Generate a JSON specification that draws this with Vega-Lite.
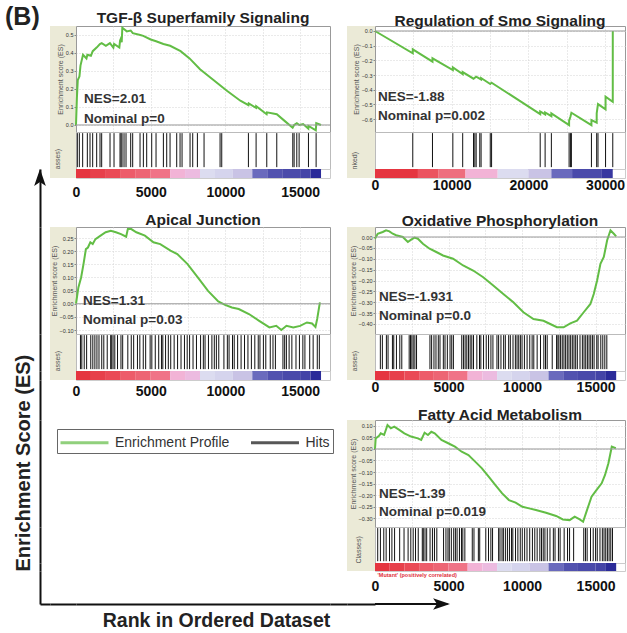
{
  "$schema": "https://vega.github.io/schema/vega-lite/v6.json",
  "background": "white",
  "padding": {"left": 5, "top": 5, "right": 0, "bottom": 0},
  "config": {"font": "Liberation Sans", "view": {"stroke": null}},
  "datasets": {
    "tgf_es": [{"rank":0,"es":0},{"rank":60,"es":0.15},{"rank":120,"es":0.25},{"rank":230,"es":0.27},{"rank":300,"es":0.33},{"rank":470,"es":0.39},{"rank":700,"es":0.37},{"rank":760,"es":0.39},{"rank":1000,"es":0.385},{"rank":1120,"es":0.41},{"rank":1380,"es":0.43},{"rank":1600,"es":0.45},{"rank":1720,"es":0.455},{"rank":2000,"es":0.44},{"rank":2270,"es":0.455},{"rank":2500,"es":0.43},{"rank":2550,"es":0.45},{"rank":2900,"es":0.43},{"rank":2950,"es":0.47},{"rank":3000,"es":0.48},{"rank":3060,"es":0.46},{"rank":3100,"es":0.54},{"rank":3400,"es":0.52},{"rank":3660,"es":0.525},{"rank":3800,"es":0.51},{"rank":4300,"es":0.5},{"rank":4500,"es":0.495},{"rank":5000,"es":0.475},{"rank":5360,"es":0.465},{"rank":5850,"es":0.45},{"rank":6300,"es":0.44},{"rank":7000,"es":0.41},{"rank":7600,"es":0.37},{"rank":8300,"es":0.31},{"rank":9200,"es":0.25},{"rank":10100,"es":0.19},{"rank":11000,"es":0.135},{"rank":11540,"es":0.11},{"rank":11560,"es":0.12},{"rank":12050,"es":0.095},{"rank":12060,"es":0.105},{"rank":12760,"es":0.06},{"rank":12780,"es":0.07},{"rank":13440,"es":0.06},{"rank":14000,"es":0.02},{"rank":14500,"es":-0.015},{"rank":14600,"es":0.0},{"rank":14780,"es":0.01},{"rank":14950,"es":0.0},{"rank":15200,"es":0.005},{"rank":15550,"es":-0.02},{"rank":15560,"es":-0.005},{"rank":16050,"es":-0.03},{"rank":16080,"es":0.01},{"rank":16400,"es":0.0}],
    "tgf_hits": [{"rank":89},{"rank":223},{"rank":446},{"rank":759},{"rank":938},{"rank":1116},{"rank":1384},{"rank":1607},{"rank":1719},{"rank":2277},{"rank":2545},{"rank":2946},{"rank":3013},{"rank":3080},{"rank":3214},{"rank":3348},{"rank":3661},{"rank":3795},{"rank":4286},{"rank":4509},{"rank":4732},{"rank":5067},{"rank":5357},{"rank":5848},{"rank":6071},{"rank":6295},{"rank":6741},{"rank":6964},{"rank":7098},{"rank":7634},{"rank":7812},{"rank":8125},{"rank":8571},{"rank":9643},{"rank":9754},{"rank":11540},{"rank":12054},{"rank":12768},{"rank":13438},{"rank":14509},{"rank":14598},{"rank":14777},{"rank":14933},{"rank":15558},{"rank":16071}],
    "smo_es": [{"rank":0,"es":0},{"rank":4925,"es":-0.152},{"rank":4926,"es":-0.125},{"rank":7495,"es":-0.209},{"rank":7496,"es":-0.186},{"rank":10150,"es":-0.266},{"rank":10151,"es":-0.248},{"rank":11435,"es":-0.293},{"rank":11436,"es":-0.28},{"rank":12848,"es":-0.325},{"rank":13190,"es":-0.311},{"rank":13833,"es":-0.33},{"rank":13834,"es":-0.32},{"rank":15032,"es":-0.361},{"rank":15203,"es":-0.352},{"rank":21542,"es":-0.566},{"rank":21543,"es":-0.548},{"rank":22184,"es":-0.568},{"rank":22185,"es":-0.555},{"rank":22998,"es":-0.58},{"rank":22999,"es":-0.561},{"rank":25310,"es":-0.641},{"rank":25311,"es":-0.611},{"rank":25482,"es":-0.584},{"rank":25610,"es":-0.557},{"rank":28223,"es":-0.641},{"rank":28224,"es":-0.607},{"rank":28908,"es":-0.625},{"rank":28909,"es":-0.561},{"rank":29079,"es":-0.498},{"rank":30064,"es":-0.534},{"rank":30065,"es":-0.448},{"rank":31006,"es":-0.482},{"rank":31007,"es":0.0}],
    "smo_hits": [{"rank":4925},{"rank":7495},{"rank":10150},{"rank":11435},{"rank":12848},{"rank":13019},{"rank":13190},{"rank":13662},{"rank":13833},{"rank":15032},{"rank":15203},{"rank":21542},{"rank":22184},{"rank":22998},{"rank":25310},{"rank":25482},{"rank":25610},{"rank":28223},{"rank":28908},{"rank":29079},{"rank":30064},{"rank":31006}],
    "ap_es": [{"rank":0,"es":0},{"rank":160,"es":0.062},{"rank":342,"es":0.1},{"rank":502,"es":0.151},{"rank":662,"es":0.208},{"rank":799,"es":0.214},{"rank":959,"es":0.234},{"rank":1119,"es":0.227},{"rank":1301,"es":0.246},{"rank":1644,"es":0.259},{"rank":1986,"es":0.272},{"rank":2329,"es":0.278},{"rank":2671,"es":0.272},{"rank":3014,"es":0.265},{"rank":3356,"es":0.255},{"rank":3470,"es":0.284},{"rank":3699,"es":0.284},{"rank":4041,"es":0.272},{"rank":4612,"es":0.259},{"rank":5183,"es":0.234},{"rank":5639,"es":0.227},{"rank":6324,"es":0.202},{"rank":6781,"es":0.189},{"rank":7466,"es":0.151},{"rank":8151,"es":0.1},{"rank":8836,"es":0.049},{"rank":9521,"es":0.009},{"rank":9977,"es":-0.004},{"rank":10434,"es":-0.014},{"rank":10890,"es":-0.02},{"rank":11575,"es":-0.039},{"rank":12260,"es":-0.065},{"rank":12945,"es":-0.09},{"rank":13402,"es":-0.084},{"rank":13744,"es":-0.1},{"rank":14087,"es":-0.084},{"rank":14543,"es":-0.09},{"rank":15000,"es":-0.084},{"rank":15457,"es":-0.071},{"rank":15799,"es":-0.075},{"rank":16027,"es":-0.088},{"rank":16142,"es":-0.058},{"rank":16324,"es":0.005}],
    "ap_hits": [{"rank":299},{"rank":390},{"rank":551},{"rank":712},{"rank":988},{"rank":1126},{"rank":1263},{"rank":1401},{"rank":1539},{"rank":1723},{"rank":1861},{"rank":2090},{"rank":2320},{"rank":2389},{"rank":2481},{"rank":2596},{"rank":2779},{"rank":3009},{"rank":3124},{"rank":3468},{"rank":3698},{"rank":3859},{"rank":4112},{"rank":4272},{"rank":4502},{"rank":4663},{"rank":4962},{"rank":5076},{"rank":5306},{"rank":5536},{"rank":5720},{"rank":5811},{"rank":5995},{"rank":6179},{"rank":6340},{"rank":6569},{"rank":6799},{"rank":7029},{"rank":7259},{"rank":7442},{"rank":7603},{"rank":7833},{"rank":8062},{"rank":8338},{"rank":8522},{"rank":8637},{"rank":8866},{"rank":9096},{"rank":9257},{"rank":9395},{"rank":9556},{"rank":9900},{"rank":10130},{"rank":10245},{"rank":10475},{"rank":10590},{"rank":10819},{"rank":11049},{"rank":11279},{"rank":11508},{"rank":11738},{"rank":11967},{"rank":12197},{"rank":12312},{"rank":12542},{"rank":12702},{"rank":13001},{"rank":13185},{"rank":13346},{"rank":13851},{"rank":13966},{"rank":14081},{"rank":14264},{"rank":14448},{"rank":14724},{"rank":14954},{"rank":15183},{"rank":15321},{"rank":15642},{"rank":15872},{"rank":16148},{"rank":16286}],
    "ox_es": [{"rank":0,"es":-0.008},{"rank":182,"es":0.015},{"rank":524,"es":0.023},{"rank":752,"es":0.031},{"rank":980,"es":0.026},{"rank":1207,"es":0.015},{"rank":1435,"es":0.008},{"rank":1891,"es":0.0},{"rank":2233,"es":-0.023},{"rank":2460,"es":-0.012},{"rank":2688,"es":-0.003},{"rank":2916,"es":-0.008},{"rank":3258,"es":-0.031},{"rank":3713,"es":-0.054},{"rank":4169,"es":-0.069},{"rank":4624,"es":-0.085},{"rank":5308,"es":-0.1},{"rank":5991,"es":-0.131},{"rank":6675,"es":-0.154},{"rank":7358,"es":-0.185},{"rank":8041,"es":-0.223},{"rank":8725,"es":-0.262},{"rank":9408,"es":-0.3},{"rank":10092,"es":-0.346},{"rank":10775,"es":-0.377},{"rank":11458,"es":-0.385},{"rank":11914,"es":-0.4},{"rank":12369,"es":-0.415},{"rank":12825,"es":-0.415},{"rank":13281,"es":-0.397},{"rank":13736,"es":-0.385},{"rank":14192,"es":-0.346},{"rank":14647,"es":-0.308},{"rank":14875,"es":-0.262},{"rank":15103,"es":-0.2},{"rank":15330,"es":-0.123},{"rank":15558,"es":-0.092},{"rank":15786,"es":-0.015},{"rank":16014,"es":0.031},{"rank":16241,"es":0.015},{"rank":16400,"es":0.003}],
    "ox_hits": [{"rank":364},{"rank":501},{"rank":775},{"rank":888},{"rank":1185},{"rank":1276},{"rank":1458},{"rank":1686},{"rank":1822},{"rank":2324},{"rank":2415},{"rank":2506},{"rank":2597},{"rank":2711},{"rank":2825},{"rank":3736},{"rank":3850},{"rank":4009},{"rank":4146},{"rank":4305},{"rank":4419},{"rank":4647},{"rank":4761},{"rank":4920},{"rank":5103},{"rank":5217},{"rank":5331},{"rank":5900},{"rank":6014},{"rank":6128},{"rank":6242},{"rank":6356},{"rank":6470},{"rank":6583},{"rank":6697},{"rank":6925},{"rank":7107},{"rank":7198},{"rank":7381},{"rank":7563},{"rank":7722},{"rank":7882},{"rank":8019},{"rank":8292},{"rank":8406},{"rank":8565},{"rank":8748},{"rank":8862},{"rank":9089},{"rank":9203},{"rank":9385},{"rank":9545},{"rank":9659},{"rank":9773},{"rank":9887},{"rank":10000},{"rank":10160},{"rank":10342},{"rank":10524},{"rank":10684},{"rank":10798},{"rank":11026},{"rank":11253},{"rank":11481},{"rank":11595},{"rank":11709},{"rank":12051},{"rank":12347},{"rank":12438},{"rank":12506},{"rank":12620},{"rank":12734},{"rank":12848},{"rank":12962},{"rank":13076},{"rank":13190},{"rank":13304},{"rank":13418},{"rank":13531},{"rank":13645},{"rank":13759},{"rank":13941},{"rank":14101},{"rank":14215},{"rank":14328},{"rank":14442},{"rank":14556},{"rank":14670},{"rank":14784},{"rank":14898},{"rank":15080},{"rank":15171},{"rank":15354},{"rank":15490},{"rank":15627},{"rank":15764}],
    "fa_es": [{"rank":0,"es":0},{"rank":46,"es":0.046},{"rank":275,"es":0.057},{"rank":390,"es":0.068},{"rank":619,"es":0.061},{"rank":849,"es":0.104},{"rank":1078,"es":0.09},{"rank":1308,"es":0.097},{"rank":1651,"es":0.083},{"rank":1995,"es":0.068},{"rank":2454,"es":0.054},{"rank":2913,"es":0.046},{"rank":3142,"es":0.039},{"rank":3372,"es":0.071},{"rank":3601,"es":0.061},{"rank":3830,"es":0.075},{"rank":4060,"es":0.068},{"rank":4519,"es":0.039},{"rank":4977,"es":0.025},{"rank":5436,"es":0.01},{"rank":5895,"es":-0.012},{"rank":6353,"es":-0.026},{"rank":6812,"es":-0.055},{"rank":7271,"es":-0.084},{"rank":7729,"es":-0.12},{"rank":8188,"es":-0.157},{"rank":8647,"es":-0.193},{"rank":9106,"es":-0.222},{"rank":9564,"es":-0.233},{"rank":10023,"es":-0.251},{"rank":10482,"es":-0.258},{"rank":10940,"es":-0.265},{"rank":11628,"es":-0.277},{"rank":12317,"es":-0.291},{"rank":12775,"es":-0.306},{"rank":13234,"es":-0.309},{"rank":13578,"es":-0.294},{"rank":13922,"es":-0.306},{"rank":14151,"es":-0.316},{"rank":14381,"es":-0.272},{"rank":14725,"es":-0.207},{"rank":15069,"es":-0.178},{"rank":15413,"es":-0.149},{"rank":15642,"es":-0.113},{"rank":15872,"es":-0.062},{"rank":16101,"es":0.01},{"rank":16376,"es":0.003}],
    "fa_hits": [{"rank":184},{"rank":368},{"rank":597},{"rank":758},{"rank":988},{"rank":1149},{"rank":1332},{"rank":1677},{"rank":1975},{"rank":2251},{"rank":2435},{"rank":2596},{"rank":2756},{"rank":2940},{"rank":3216},{"rank":3285},{"rank":3400},{"rank":3514},{"rank":3744},{"rank":3905},{"rank":4043},{"rank":4204},{"rank":4663},{"rank":4824},{"rank":4962},{"rank":5053},{"rank":5191},{"rank":5352},{"rank":5467},{"rank":5582},{"rank":5743},{"rank":5880},{"rank":5972},{"rank":6110},{"rank":6615},{"rank":6730},{"rank":7029},{"rank":7121},{"rank":7534},{"rank":7718},{"rank":7879},{"rank":7994},{"rank":8407},{"rank":8499},{"rank":8637},{"rank":8729},{"rank":8866},{"rank":9004},{"rank":9142},{"rank":9280},{"rank":9372},{"rank":9556},{"rank":9716},{"rank":9877},{"rank":10015},{"rank":10176},{"rank":10337},{"rank":10520},{"rank":10704},{"rank":10865},{"rank":11026},{"rank":11209},{"rank":11324},{"rank":11439},{"rank":11554},{"rank":11715},{"rank":11898},{"rank":12128},{"rank":12243},{"rank":12473},{"rank":12588},{"rank":12863},{"rank":13093},{"rank":13231},{"rank":13507},{"rank":14196},{"rank":14311},{"rank":14426},{"rank":14655},{"rank":14839},{"rank":15000},{"rank":15114},{"rank":15298},{"rank":15459},{"rank":15574},{"rank":15689},{"rank":15803},{"rank":15918},{"rank":16033},{"rank":16148}],
    "bar16": [{"start":0,"end":1000,"m":1},{"start":1000,"end":2000,"m":0.95},{"start":2000,"end":3000,"m":0.9},{"start":3000,"end":4000,"m":0.8},{"start":4000,"end":5000,"m":0.75},{"start":5000,"end":6300,"m":0.68},{"start":6300,"end":7300,"m":0.45},{"start":7300,"end":8300,"m":0.38},{"start":8300,"end":9300,"m":0.05},{"start":9300,"end":10500,"m":0.0},{"start":10500,"end":11800,"m":-0.1},{"start":11800,"end":12800,"m":-0.55},{"start":12800,"end":13800,"m":-0.7},{"start":13800,"end":15000,"m":-0.75},{"start":15000,"end":15700,"m":-0.8},{"start":15700,"end":16400,"m":-1}],
    "bar31": [{"start":0,"end":5600,"m":1},{"start":5600,"end":8300,"m":0.85},{"start":8300,"end":11800,"m":0.7},{"start":11800,"end":16000,"m":0.45},{"start":16000,"end":20000,"m":0.05},{"start":20000,"end":23000,"m":-0.1},{"start":23000,"end":25700,"m":-0.55},{"start":25700,"end":29500,"m":-0.75},{"start":29500,"end":31000,"m":-0.9}],
    "legend_items": []
  },
  "columns": 6,
  "spacing": 0,
  "bounds": "flush",
  "align": "each",
  "resolve": {"legend": {"stroke": "independent"}, "scale": {"stroke": "independent"}},
  "concat": [
    {"width": 10, "height": 106, "data": {"values": []}, "mark": "rule", "encoding": {},
     "title": {"text": "(B)", "anchor": "start", "dx": -35, "offset": -4, "fontSize": 25, "fontWeight": "bold", "color": "#222"}},
    {"width": 26, "height": 106, "data": {"values": []}, "mark": "rule", "encoding": {}, "view": {"fill": "#ebead7"}},
    {"width": 254, "height": 106, "view": {"stroke": "#999"},
     "title": {"text": "TGF-β Superfamily Signaling", "fontSize": 15.5, "fontWeight": "bold", "color": "#222", "offset": -3},
     "layer": [
       {"data": {"name": "tgf_es"}, "mark": {"type": "line", "color": "#62bd45", "strokeWidth": 2},
        "encoding": {
          "x": {"field": "rank", "type": "quantitative", "scale": {"domain": [0, 17000], "nice": false, "zero": false},
                "axis": {"title": null, "labels": false, "ticks": false, "domain": false, "grid": true, "gridColor": "#d5d5d5", "gridDash": [1, 2], "tickCount": 20, "values": [2500, 5000, 7500, 10000, 12500, 15000]}},
          "y": {"field": "es", "type": "quantitative", "scale": {"domain": [-0.039, 0.55], "nice": false, "zero": false},
                "axis": {"title": "Enrichment score (ES)", "titleFontSize": 7, "titleFontWeight": "normal", "titleColor": "#555", "titlePadding": 2, "labelFontSize": 5.5, "labelColor": "#333", "labelPadding": 1, "labelOverlap": false, "tickCount": 20, "tickSize": 2, "tickColor": "#888", "domain": false, "grid": true, "gridColor": "#d5d5d5", "gridDash": [1, 2], "values": [0, 0.1, 0.2, 0.3, 0.4, 0.5], "format": ".1f"}}
        }},
       {"data": {"values": [{}]}, "mark": {"type": "rule", "color": "#999", "strokeWidth": 1}, "encoding": {"y": {"datum": 0, "type": "quantitative"}}},
       {"data": {"values": [{"t": "NES=2.01"}]}, "mark": {"type": "text", "align": "left", "baseline": "middle", "fontSize": 13.5, "fontWeight": "bold", "color": "#333"},
        "encoding": {"x": {"datum": 535, "type": "quantitative"}, "y": {"datum": 0.144, "type": "quantitative"}, "text": {"field": "t"}}},
       {"data": {"values": [{"t": "Nominal p=0"}]}, "mark": {"type": "text", "align": "left", "baseline": "middle", "fontSize": 13.5, "fontWeight": "bold", "color": "#333"},
        "encoding": {"x": {"datum": 535, "type": "quantitative"}, "y": {"datum": 0.033, "type": "quantitative"}, "text": {"field": "t"}}}
     ]},
    {"width": 17, "height": 1, "data": {"values": []}, "mark": "rule", "encoding": {}},
    {"width": 28, "height": 106, "data": {"values": []}, "mark": "rule", "encoding": {}, "view": {"fill": "#ebead7"}},
    {"width": 250, "height": 106, "view": {"stroke": "#999"},
     "title": {"text": "Regulation of Smo Signaling", "fontSize": 15.5, "fontWeight": "bold", "color": "#222", "offset": -3},
     "layer": [
       {"data": {"name": "smo_es"}, "mark": {"type": "line", "color": "#62bd45", "strokeWidth": 2},
        "encoding": {
          "x": {"field": "rank", "type": "quantitative", "scale": {"domain": [0, 32600], "nice": false, "zero": false},
                "axis": {"title": null, "labels": false, "ticks": false, "domain": false, "grid": true, "gridColor": "#d5d5d5", "gridDash": [1, 2], "tickCount": 20, "values": [5000, 10000, 15000, 20000, 25000, 30000]}},
          "y": {"field": "es", "type": "quantitative", "scale": {"domain": [-0.688, 0.034], "nice": false, "zero": false},
                "axis": {"title": "Enrichment score (ES)", "titleFontSize": 7, "titleFontWeight": "normal", "titleColor": "#555", "titlePadding": 2, "labelFontSize": 5.5, "labelColor": "#333", "labelPadding": 1, "labelOverlap": false, "tickCount": 20, "tickSize": 2, "tickColor": "#888", "domain": false, "grid": true, "gridColor": "#d5d5d5", "gridDash": [1, 2], "values": [0, -0.1, -0.2, -0.3, -0.4, -0.5, -0.6], "format": ".1f"}}
        }},
       {"data": {"values": [{}]}, "mark": {"type": "rule", "color": "#999", "strokeWidth": 1}, "encoding": {"y": {"datum": 0, "type": "quantitative"}}},
       {"data": {"values": [{"t": "NES=-1.88"}]}, "mark": {"type": "text", "align": "left", "baseline": "middle", "fontSize": 13.5, "fontWeight": "bold", "color": "#333"},
        "encoding": {"x": {"datum": 390, "type": "quantitative"}, "y": {"datum": -0.45, "type": "quantitative"}, "text": {"field": "t"}}},
       {"data": {"values": [{"t": "Nominal p=0.002"}]}, "mark": {"type": "text", "align": "left", "baseline": "middle", "fontSize": 13.5, "fontWeight": "bold", "color": "#333"},
        "encoding": {"x": {"datum": 390, "type": "quantitative"}, "y": {"datum": -0.58, "type": "quantitative"}, "text": {"field": "t"}}}
     ]},

    {"width": 1, "height": 1, "data": {"values": []}, "mark": "rule", "encoding": {}},
    {"width": 26, "height": 37, "data": {"values": []}, "mark": "rule", "encoding": {}, "view": {"fill": "#ebead7"}},
    {"width": 254, "height": 37, "view": {"stroke": "#bbb"}, "data": {"name": "tgf_hits"},
     "mark": {"type": "rule", "color": "#111", "strokeWidth": 1},
     "encoding": {
       "x": {"field": "rank", "type": "quantitative", "scale": {"domain": [0, 17000], "nice": false, "zero": false}, "axis": null},
       "y": {"datum": 0.05, "type": "quantitative", "scale": {"domain": [0, 1]}, "axis": {"title": "asses)", "titleFontSize": 7, "titleFontWeight": "normal", "titleColor": "#555", "titleAnchor": "start", "titlePadding": 16, "labels": false, "ticks": false, "domain": false, "grid": false}},
       "y2": {"datum": 0.97}
     }},
    {"width": 1, "height": 1, "data": {"values": []}, "mark": "rule", "encoding": {}},
    {"width": 28, "height": 37, "data": {"values": []}, "mark": "rule", "encoding": {}, "view": {"fill": "#ebead7"}},
    {"width": 250, "height": 37, "view": {"stroke": "#bbb"}, "data": {"name": "smo_hits"},
     "mark": {"type": "rule", "color": "#111", "strokeWidth": 1},
     "encoding": {
       "x": {"field": "rank", "type": "quantitative", "scale": {"domain": [0, 32600], "nice": false, "zero": false}, "axis": null},
       "y": {"datum": 0.05, "type": "quantitative", "scale": {"domain": [0, 1]}, "axis": {"title": "nked)", "titleFontSize": 7, "titleFontWeight": "normal", "titleColor": "#555", "titleAnchor": "start", "titlePadding": 18, "labels": false, "ticks": false, "domain": false, "grid": false}},
       "y2": {"datum": 0.97}
     }},

    {"width": 10, "height": 9, "data": {"values": [{}]},
     "mark": {"type": "point", "shape": "M0,0L0.9,2.6L0,2L-0.9,2.6Z", "size": 169, "filled": true, "color": "#111", "opacity": 1},
     "encoding": {
       "x": {"datum": 0, "type": "quantitative", "scale": {"domain": [0, 1]}, "axis": null},
       "y": {"datum": 1, "type": "quantitative", "scale": {"domain": [0, 1]}, "axis": {"title": null, "domain": true, "domainColor": "#111", "domainWidth": 2, "ticks": false, "labels": false, "grid": false}}
     }},
    {"width": 26, "height": 9, "data": {"values": []}, "mark": "rule", "encoding": {}, "view": {"fill": "#ebead7"}},
    {"width": 254, "height": 9, "view": {"stroke": "#ccc"}, "data": {"name": "bar16"},
     "mark": {"type": "rect"},
     "encoding": {
       "x": {"field": "start", "type": "quantitative", "scale": {"domain": [0, 17000], "nice": false, "zero": false},
             "axis": {"title": null, "values": [0, 5000, 10000, 15000], "tickCount": 20, "format": "d", "labelFontSize": 14, "labelFontWeight": "bold", "labelColor": "#111", "labelFlush": false, "labelOverlap": false, "labelPadding": 7, "domain": false, "ticks": false, "grid": false}},
       "x2": {"field": "end"},
       "fill": {"field": "m", "type": "quantitative", "legend": null, "scale": {"domain": [-1, -0.75, -0.5, -0.1, 0.05, 0.45, 0.7, 1], "range": ["#2b2b99", "#4a4aaa", "#7272c2", "#c9c3e5", "#dcdcf0", "#f2b3d6", "#ee6e7e", "#e53540"]}}
     }},
    {"width": 1, "height": 1, "data": {"values": []}, "mark": "rule", "encoding": {}},
    {"width": 28, "height": 9, "data": {"values": []}, "mark": "rule", "encoding": {}, "view": {"fill": "#ebead7"}},
    {"width": 250, "height": 9, "view": {"stroke": "#ccc"}, "data": {"name": "bar31"},
     "mark": {"type": "rect"},
     "encoding": {
       "x": {"field": "start", "type": "quantitative", "scale": {"domain": [0, 32600], "nice": false, "zero": false},
             "axis": {"title": null, "values": [0, 10000, 20000, 30000], "tickCount": 20, "format": "d", "labelFontSize": 14, "labelFontWeight": "bold", "labelColor": "#111", "labelFlush": false, "labelOverlap": false, "labelPadding": 0, "domain": false, "ticks": false, "grid": false}},
       "x2": {"field": "end"},
       "fill": {"field": "m", "type": "quantitative", "legend": null, "scale": {"domain": [-1, -0.75, -0.5, -0.1, 0.05, 0.45, 0.7, 1], "range": ["#2b2b99", "#4a4aaa", "#7272c2", "#c9c3e5", "#dcdcf0", "#f2b3d6", "#ee6e7e", "#e53540"]}}
     }},

    {"width": 10, "height": 49, "data": {"values": []}, "mark": "rule",
     "encoding": {"y": {"datum": 0, "type": "quantitative", "scale": {"domain": [0, 1]}, "axis": {"title": null, "domain": true, "domainColor": "#111", "domainWidth": 2, "ticks": false, "labels": false, "grid": false}}}},
    {"width": 1, "height": 1, "data": {"values": []}, "mark": "rule", "encoding": {}},
    {"width": 1, "height": 1, "data": {"values": []}, "mark": "rule", "encoding": {}},
    {"width": 1, "height": 1, "data": {"values": []}, "mark": "rule", "encoding": {}},
    {"width": 1, "height": 1, "data": {"values": []}, "mark": "rule", "encoding": {}},
    {"width": 1, "height": 1, "data": {"values": []}, "mark": "rule", "encoding": {}},

    {"width": 10, "height": 107, "data": {"values": []}, "mark": "rule",
     "encoding": {"y": {"datum": 0, "type": "quantitative", "scale": {"domain": [0, 1]}, "axis": {"title": null, "domain": true, "domainColor": "#111", "domainWidth": 2, "ticks": false, "labels": false, "grid": false}}}},
    {"width": 26, "height": 107, "data": {"values": []}, "mark": "rule", "encoding": {}, "view": {"fill": "#ebead7"}},
    {"width": 254, "height": 107, "view": {"stroke": "#999"},
     "title": {"text": "Apical Junction", "fontSize": 15.5, "fontWeight": "bold", "color": "#222", "offset": -3},
     "layer": [
       {"data": {"name": "ap_es"}, "mark": {"type": "line", "color": "#62bd45", "strokeWidth": 2},
        "encoding": {
          "x": {"field": "rank", "type": "quantitative", "scale": {"domain": [0, 17000], "nice": false, "zero": false},
                "axis": {"title": null, "labels": false, "ticks": false, "domain": false, "grid": true, "gridColor": "#d5d5d5", "gridDash": [1, 2], "tickCount": 20, "values": [2500, 5000, 7500, 10000, 12500, 15000]}},
          "y": {"field": "es", "type": "quantitative", "scale": {"domain": [-0.115, 0.292], "nice": false, "zero": false},
                "axis": {"title": "Enrichment score (ES)", "titleFontSize": 7, "titleFontWeight": "normal", "titleColor": "#555", "titlePadding": 2, "labelFontSize": 5.5, "labelColor": "#333", "labelPadding": 1, "labelOverlap": false, "tickCount": 20, "tickSize": 2, "tickColor": "#888", "domain": false, "grid": true, "gridColor": "#d5d5d5", "gridDash": [1, 2], "values": [-0.1, -0.05, 0, 0.05, 0.1, 0.15, 0.2, 0.25], "format": ".2f"}}
        }},
       {"data": {"values": [{}]}, "mark": {"type": "rule", "color": "#999", "strokeWidth": 1}, "encoding": {"y": {"datum": 0, "type": "quantitative"}}},
       {"data": {"values": [{"t": "NES=1.31"}]}, "mark": {"type": "text", "align": "left", "baseline": "middle", "fontSize": 13.5, "fontWeight": "bold", "color": "#333"},
        "encoding": {"x": {"datum": 470, "type": "quantitative"}, "y": {"datum": 0.0105, "type": "quantitative"}, "text": {"field": "t"}}},
       {"data": {"values": [{"t": "Nominal p=0.03"}]}, "mark": {"type": "text", "align": "left", "baseline": "middle", "fontSize": 13.5, "fontWeight": "bold", "color": "#333"},
        "encoding": {"x": {"datum": 470, "type": "quantitative"}, "y": {"datum": -0.062, "type": "quantitative"}, "text": {"field": "t"}}}
     ]},
    {"width": 1, "height": 1, "data": {"values": []}, "mark": "rule", "encoding": {}},
    {"width": 28, "height": 107, "data": {"values": []}, "mark": "rule", "encoding": {}, "view": {"fill": "#ebead7"}},
    {"width": 250, "height": 107, "view": {"stroke": "#999"},
     "title": {"text": "Oxidative Phosphorylation", "fontSize": 15.5, "fontWeight": "bold", "color": "#222", "offset": -3},
     "layer": [
       {"data": {"name": "ox_es"}, "mark": {"type": "line", "color": "#62bd45", "strokeWidth": 2},
        "encoding": {
          "x": {"field": "rank", "type": "quantitative", "scale": {"domain": [0, 17000], "nice": false, "zero": false},
                "axis": {"title": null, "labels": false, "ticks": false, "domain": false, "grid": true, "gridColor": "#d5d5d5", "gridDash": [1, 2], "tickCount": 20, "values": [2500, 5000, 7500, 10000, 12500, 15000]}},
          "y": {"field": "es", "type": "quantitative", "scale": {"domain": [-0.446, 0.046], "nice": false, "zero": false},
                "axis": {"title": "Enrichment score (ES)", "titleFontSize": 7, "titleFontWeight": "normal", "titleColor": "#555", "titlePadding": 2, "labelFontSize": 5.5, "labelColor": "#333", "labelPadding": 1, "labelOverlap": false, "tickCount": 20, "tickSize": 2, "tickColor": "#888", "domain": false, "grid": true, "gridColor": "#d5d5d5", "gridDash": [1, 2], "values": [0, -0.05, -0.1, -0.15, -0.2, -0.25, -0.3, -0.35, -0.4], "format": ".2f"}}
        }},
       {"data": {"values": [{}]}, "mark": {"type": "rule", "color": "#999", "strokeWidth": 1}, "encoding": {"y": {"datum": 0, "type": "quantitative"}}},
       {"data": {"values": [{"t": "NES=-1.931"}]}, "mark": {"type": "text", "align": "left", "baseline": "middle", "fontSize": 13.5, "fontWeight": "bold", "color": "#333"},
        "encoding": {"x": {"datum": 272, "type": "quantitative"}, "y": {"datum": -0.276, "type": "quantitative"}, "text": {"field": "t"}}},
       {"data": {"values": [{"t": "Nominal p=0.0"}]}, "mark": {"type": "text", "align": "left", "baseline": "middle", "fontSize": 13.5, "fontWeight": "bold", "color": "#333"},
        "encoding": {"x": {"datum": 272, "type": "quantitative"}, "y": {"datum": -0.363, "type": "quantitative"}, "text": {"field": "t"}}}
     ]},

    {"width": 10, "height": 37, "data": {"values": []}, "mark": "rule",
     "encoding": {"y": {"datum": 0, "type": "quantitative", "scale": {"domain": [0, 1]}, "axis": {"title": null, "domain": true, "domainColor": "#111", "domainWidth": 2, "ticks": false, "labels": false, "grid": false}}}},
    {"width": 26, "height": 37, "data": {"values": []}, "mark": "rule", "encoding": {}, "view": {"fill": "#ebead7"}},
    {"width": 254, "height": 37, "view": {"stroke": "#bbb"}, "data": {"name": "ap_hits"},
     "mark": {"type": "rule", "color": "#111", "strokeWidth": 1},
     "encoding": {
       "x": {"field": "rank", "type": "quantitative", "scale": {"domain": [0, 17000], "nice": false, "zero": false}, "axis": null},
       "y": {"datum": 0.05, "type": "quantitative", "scale": {"domain": [0, 1]}, "axis": {"title": "asses)", "titleFontSize": 7, "titleFontWeight": "normal", "titleColor": "#555", "titleAnchor": "start", "titlePadding": 16, "labels": false, "ticks": false, "domain": false, "grid": false}},
       "y2": {"datum": 0.97}
     }},
    {"width": 1, "height": 1, "data": {"values": []}, "mark": "rule", "encoding": {}},
    {"width": 28, "height": 37, "data": {"values": []}, "mark": "rule", "encoding": {}, "view": {"fill": "#ebead7"}},
    {"width": 250, "height": 37, "view": {"stroke": "#bbb"}, "data": {"name": "ox_hits"},
     "mark": {"type": "rule", "color": "#111", "strokeWidth": 1},
     "encoding": {
       "x": {"field": "rank", "type": "quantitative", "scale": {"domain": [0, 17000], "nice": false, "zero": false}, "axis": null},
       "y": {"datum": 0.05, "type": "quantitative", "scale": {"domain": [0, 1]}, "axis": {"title": "asses)", "titleFontSize": 7, "titleFontWeight": "normal", "titleColor": "#555", "titleAnchor": "start", "titlePadding": 18, "labels": false, "ticks": false, "domain": false, "grid": false}},
       "y2": {"datum": 0.97}
     }},

    {"width": 10, "height": 9, "data": {"values": []}, "mark": "rule",
     "encoding": {"y": {"datum": 0, "type": "quantitative", "scale": {"domain": [0, 1]}, "axis": {"title": null, "domain": true, "domainColor": "#111", "domainWidth": 2, "ticks": false, "labels": false, "grid": false}}}},
    {"width": 26, "height": 9, "data": {"values": []}, "mark": "rule", "encoding": {}, "view": {"fill": "#ebead7"}},
    {"width": 254, "height": 9, "view": {"stroke": "#ccc"}, "data": {"name": "bar16"},
     "mark": {"type": "rect"},
     "encoding": {
       "x": {"field": "start", "type": "quantitative", "scale": {"domain": [0, 17000], "nice": false, "zero": false},
             "axis": {"title": null, "values": [0, 5000, 10000, 15000], "tickCount": 20, "format": "d", "labelFontSize": 14, "labelFontWeight": "bold", "labelColor": "#111", "labelFlush": false, "labelOverlap": false, "labelPadding": 4, "domain": false, "ticks": false, "grid": false}},
       "x2": {"field": "end"},
       "fill": {"field": "m", "type": "quantitative", "legend": null, "scale": {"domain": [-1, -0.75, -0.5, -0.1, 0.05, 0.45, 0.7, 1], "range": ["#2b2b99", "#4a4aaa", "#7272c2", "#c9c3e5", "#dcdcf0", "#f2b3d6", "#ee6e7e", "#e53540"]}}
     }},
    {"width": 1, "height": 1, "data": {"values": []}, "mark": "rule", "encoding": {}},
    {"width": 28, "height": 9, "data": {"values": []}, "mark": "rule", "encoding": {}, "view": {"fill": "#ebead7"}},
    {"width": 250, "height": 9, "view": {"stroke": "#ccc"}, "data": {"name": "bar16"},
     "mark": {"type": "rect"},
     "encoding": {
       "x": {"field": "start", "type": "quantitative", "scale": {"domain": [0, 17000], "nice": false, "zero": false},
             "axis": {"title": null, "values": [0, 5000, 10000, 15000], "tickCount": 20, "format": "d", "labelFontSize": 14, "labelFontWeight": "bold", "labelColor": "#111", "labelFlush": false, "labelOverlap": false, "labelPadding": 0, "domain": false, "ticks": false, "grid": false}},
       "x2": {"field": "end"},
       "fill": {"field": "m", "type": "quantitative", "legend": null, "scale": {"domain": [-1, -0.75, -0.5, -0.1, 0.05, 0.45, 0.7, 1], "range": ["#2b2b99", "#4a4aaa", "#7272c2", "#c9c3e5", "#dcdcf0", "#f2b3d6", "#ee6e7e", "#e53540"]}}
     }},

    {"width": 10, "height": 40, "data": {"values": []}, "mark": "rule",
     "encoding": {"y": {"datum": 0, "type": "quantitative", "scale": {"domain": [0, 1]}, "axis": {"title": null, "domain": true, "domainColor": "#111", "domainWidth": 2, "ticks": false, "labels": false, "grid": false}}}},
    {"width": 1, "height": 1, "data": {"values": []}, "mark": "rule", "encoding": {}},
    {"width": 1, "height": 1, "data": {"values": []}, "mark": "rule", "encoding": {}},
    {"width": 1, "height": 1, "data": {"values": []}, "mark": "rule", "encoding": {}},
    {"width": 1, "height": 1, "data": {"values": []}, "mark": "rule", "encoding": {}},
    {"width": 1, "height": 1, "data": {"values": []}, "mark": "rule", "encoding": {}},

    {"width": 10, "height": 107, "data": {"values": []}, "mark": "rule",
     "encoding": {"y": {"datum": 0, "type": "quantitative", "scale": {"domain": [0, 1]}, "axis": {"title": null, "domain": true, "domainColor": "#111", "domainWidth": 2, "ticks": false, "labels": false, "grid": false}}}},
    {"width": 1, "height": 1, "data": {"values": []}, "mark": "rule", "encoding": {}},
    {"width": 254, "height": 107, "data": {"name": "legend_items"},
     "mark": {"type": "point", "shape": "stroke"},
     "encoding": {
       "stroke": {"field": "s", "type": "nominal", "scale": {"domain": ["Enrichment Profile", "Hits"], "range": ["#62bd45", "#111111"]},
                  "legend": {"title": null, "orient": "none", "legendX": -19, "legendY": 9, "direction": "horizontal", "symbolType": "M-1.11,0H4.22", "symbolSize": 324, "symbolStrokeWidth": 3, "labelFontSize": 14, "labelColor": "#333", "labelOffset": 34, "columnPadding": 14.5, "padding": 3, "strokeColor": "#666", "fillColor": "white", "labelLimit": 300,
                             "encode": {"symbols": {"update": {"strokeWidth": {"signal": "datum.value === 'Hits' ? 1.2 : 3"}, "shape": {"signal": "datum.value === 'Hits' ? 'M-0.22,0H3.67' : 'M-1.11,0H4.22'"}}}}}}
     }},
    {"width": 1, "height": 1, "data": {"values": []}, "mark": "rule", "encoding": {}},
    {"width": 28, "height": 107, "data": {"values": []}, "mark": "rule", "encoding": {}, "view": {"fill": "#ebead7"}},
    {"width": 250, "height": 107, "view": {"stroke": "#999"},
     "title": {"text": "Fatty Acid Metabolism", "fontSize": 15.5, "fontWeight": "bold", "color": "#222", "offset": -3},
     "layer": [
       {"data": {"name": "fa_es"}, "mark": {"type": "line", "color": "#62bd45", "strokeWidth": 2},
        "encoding": {
          "x": {"field": "rank", "type": "quantitative", "scale": {"domain": [0, 17000], "nice": false, "zero": false},
                "axis": {"title": null, "labels": false, "ticks": false, "domain": false, "grid": true, "gridColor": "#d5d5d5", "gridDash": [1, 2], "tickCount": 20, "values": [2500, 5000, 7500, 10000, 12500, 15000]}},
          "y": {"field": "es", "type": "quantitative", "scale": {"domain": [-0.339, 0.126], "nice": false, "zero": false},
                "axis": {"title": "Enrichment score (ES)", "titleFontSize": 7, "titleFontWeight": "normal", "titleColor": "#555", "titlePadding": 2, "labelFontSize": 5.5, "labelColor": "#333", "labelPadding": 1, "labelOverlap": false, "tickCount": 20, "tickSize": 2, "tickColor": "#888", "domain": false, "grid": true, "gridColor": "#d5d5d5", "gridDash": [1, 2], "values": [0.1, 0.05, 0, -0.05, -0.1, -0.15, -0.2, -0.25, -0.3], "format": ".2f"}}
        }},
       {"data": {"values": [{}]}, "mark": {"type": "rule", "color": "#999", "strokeWidth": 1}, "encoding": {"y": {"datum": 0, "type": "quantitative"}}},
       {"data": {"values": [{"t": "NES=-1.39"}]}, "mark": {"type": "text", "align": "left", "baseline": "middle", "fontSize": 13.5, "fontWeight": "bold", "color": "#333"},
        "encoding": {"x": {"datum": 272, "type": "quantitative"}, "y": {"datum": -0.196, "type": "quantitative"}, "text": {"field": "t"}}},
       {"data": {"values": [{"t": "Nominal p=0.019"}]}, "mark": {"type": "text", "align": "left", "baseline": "middle", "fontSize": 13.5, "fontWeight": "bold", "color": "#333"},
        "encoding": {"x": {"datum": 272, "type": "quantitative"}, "y": {"datum": -0.274, "type": "quantitative"}, "text": {"field": "t"}}}
     ]},

    {"width": 10, "height": 36, "data": {"values": []}, "mark": "rule",
     "encoding": {"y": {"datum": 0, "type": "quantitative", "scale": {"domain": [0, 1]}, "axis": {"title": null, "domain": true, "domainColor": "#111", "domainWidth": 2, "ticks": false, "labels": false, "grid": false}}}},
    {"width": 1, "height": 1, "data": {"values": []}, "mark": "rule", "encoding": {}},
    {"width": 1, "height": 1, "data": {"values": []}, "mark": "rule", "encoding": {}},
    {"width": 1, "height": 1, "data": {"values": []}, "mark": "rule", "encoding": {}},
    {"width": 28, "height": 36, "data": {"values": []}, "mark": "rule", "encoding": {}, "view": {"fill": "#ebead7"}},
    {"width": 250, "height": 36, "view": {"stroke": "#bbb"}, "data": {"name": "fa_hits"},
     "mark": {"type": "rule", "color": "#111", "strokeWidth": 1},
     "encoding": {
       "x": {"field": "rank", "type": "quantitative", "scale": {"domain": [0, 17000], "nice": false, "zero": false}, "axis": null},
       "y": {"datum": 0.05, "type": "quantitative", "scale": {"domain": [0, 1]}, "axis": {"title": "Classes)", "titleFontSize": 7, "titleFontWeight": "normal", "titleColor": "#555", "titleAnchor": "start", "titlePadding": 14, "labels": false, "ticks": false, "domain": false, "grid": false}},
       "y2": {"datum": 0.97}
     }},

    {"width": 10, "height": 8, "data": {"values": []}, "mark": "rule",
     "encoding": {"y": {"datum": 0, "type": "quantitative", "scale": {"domain": [0, 1]}, "axis": {"title": "Enrichment Score (ES)", "domain": true, "domainColor": "#111", "domainWidth": 2, "ticks": false, "labels": false, "grid": false, "titleFontSize": 20, "titleFontWeight": "bold", "titleColor": "#222", "titleAnchor": "start", "titlePadding": 7}}}},
    {"width": 1, "height": 1, "data": {"values": []}, "mark": "rule", "encoding": {}},
    {"width": 1, "height": 1, "data": {"values": []}, "mark": "rule", "encoding": {}},
    {"width": 1, "height": 1, "data": {"values": []}, "mark": "rule", "encoding": {}},
    {"width": 28, "height": 8, "data": {"values": []}, "mark": "rule", "encoding": {}, "view": {"fill": "#ebead7"}},
    {"width": 250, "height": 8, "view": {"stroke": "#ccc"}, "data": {"name": "bar16"},
     "mark": {"type": "rect"},
     "encoding": {
       "x": {"field": "start", "type": "quantitative", "scale": {"domain": [0, 17000], "nice": false, "zero": false},
             "axis": {"title": "'Mutant' (positively correlated)", "titleFontSize": 5.5, "titleFontWeight": "bold", "titleColor": "#e0303a", "titleAnchor": "start", "titleAlign": "left", "titleBaseline": "top", "titleX": 2, "titleY": 1, "values": [0, 5000, 10000, 15000], "tickCount": 20, "format": "d", "labelFontSize": 14, "labelFontWeight": "bold", "labelColor": "#111", "labelFlush": false, "labelOverlap": false, "labelPadding": 8, "domain": false, "ticks": false, "grid": false}},
       "x2": {"field": "end"},
       "fill": {"field": "m", "type": "quantitative", "legend": null, "scale": {"domain": [-1, -0.75, -0.5, -0.1, 0.05, 0.45, 0.7, 1], "range": ["#2b2b99", "#4a4aaa", "#7272c2", "#c9c3e5", "#dcdcf0", "#f2b3d6", "#ee6e7e", "#e53540"]}}
     }},

    {"width": 10, "height": 33, "data": {"values": []}, "mark": "rule",
     "encoding": {
       "x": {"datum": 0, "type": "quantitative", "scale": {"domain": [0, 1]}, "axis": {"title": null, "domain": true, "domainColor": "#111", "domainWidth": 2, "ticks": false, "labels": false, "grid": false}},
       "y": {"datum": 0, "type": "quantitative", "scale": {"domain": [0, 1]}, "axis": {"title": null, "domain": true, "domainColor": "#111", "domainWidth": 2, "ticks": false, "labels": false, "grid": false}}
     }},
    {"width": 26, "height": 33, "data": {"values": []}, "mark": "rule",
     "encoding": {"x": {"datum": 0, "type": "quantitative", "scale": {"domain": [0, 1]}, "axis": {"title": null, "domain": true, "domainColor": "#111", "domainWidth": 2, "ticks": false, "labels": false, "grid": false}}}},
    {"width": 254, "height": 33, "data": {"values": []}, "mark": "rule",
     "encoding": {"x": {"datum": 0, "type": "quantitative", "scale": {"domain": [0, 1]}, "axis": {"title": "Rank in Ordered Dataset", "domain": true, "domainColor": "#111", "domainWidth": 2, "ticks": false, "labels": false, "grid": false, "titleFontSize": 19.5, "titleFontWeight": "bold", "titleColor": "#222", "titlePadding": 7, "titleX": 140}}}},
    {"width": 17, "height": 33, "data": {"values": []}, "mark": "rule",
     "encoding": {"x": {"datum": 0, "type": "quantitative", "scale": {"domain": [0, 1]}, "axis": {"title": null, "domain": true, "domainColor": "#111", "domainWidth": 2, "ticks": false, "labels": false, "grid": false}}}},
    {"width": 28, "height": 33, "data": {"values": []}, "mark": "rule",
     "encoding": {"x": {"datum": 0, "type": "quantitative", "scale": {"domain": [0, 1]}, "axis": {"title": null, "domain": true, "domainColor": "#111", "domainWidth": 2, "ticks": false, "labels": false, "grid": false}}}},
    {"width": 250, "height": 33, "data": {"values": [{}]},
     "layer": [
       {"mark": {"type": "rule", "color": "#111", "strokeWidth": 2},
        "encoding": {
          "x": {"datum": 0, "type": "quantitative", "scale": {"domain": [0, 1]}, "axis": null},
          "x2": {"datum": 0.29},
          "y": {"datum": 0, "type": "quantitative", "scale": {"domain": [0, 1]}, "axis": null}
        }},
       {"mark": {"type": "point", "shape": "M0,0L-2.6,-0.9L-2,0L-2.6,0.9Z", "size": 169, "filled": true, "color": "#111", "opacity": 1},
        "encoding": {
          "x": {"datum": 0.3, "type": "quantitative"},
          "y": {"datum": 0, "type": "quantitative"}
        }}
     ]}
  ]
}
